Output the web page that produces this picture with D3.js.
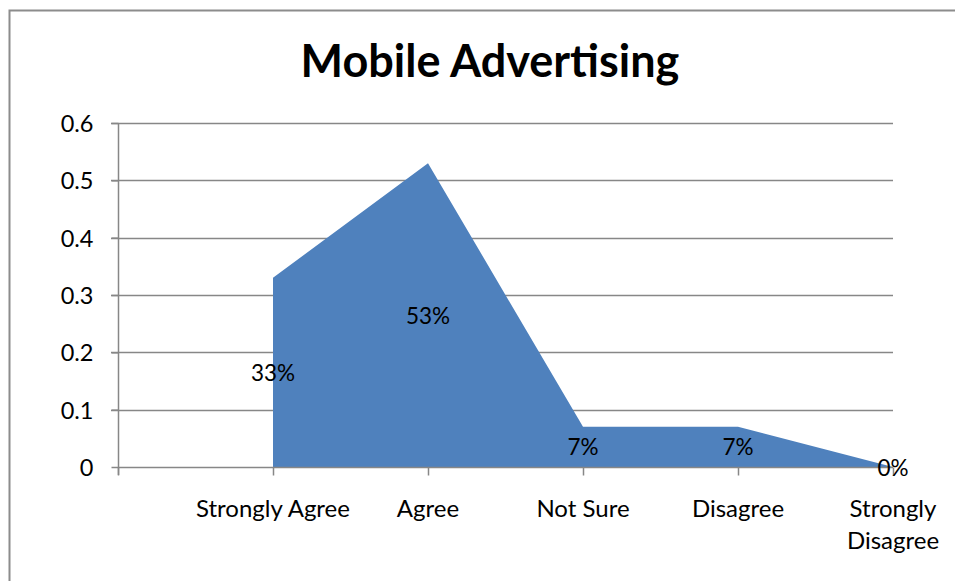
<!DOCTYPE html>
<html>
<head>
<meta charset="utf-8">
<script src="https://cdn.jsdelivr.net/npm/d3@7"></script>
<style>
  html, body { margin: 0; padding: 0; background: #fff; }
  svg { display: block; }
  text { font-family: Lato, "Open Sans", sans-serif; fill: #000; }
</style>
</head>
<body>
<svg id="chart" width="955" height="581"></svg>
<script>
// Survey responses: share of respondents per answer
const categories = ["", "Strongly Agree", "Agree", "Not Sure", "Disagree", "Strongly Disagree"];
const values = [null, 0.33, 0.53, 0.07, 0.07, 0.00];
const labels = ["", "33%", "53%", "7%", "7%", "0%"];
const yTicks = [0, 0.1, 0.2, 0.3, 0.4, 0.5, 0.6];
const title = "Mobile Advertising";

const svg = d3.select("#chart");
const W = 955, H = 581;
const m = { left: 118, right: 62, top: 123, bottom: 114 };
const gridColor = "#878787";

// outer frame
svg.append("rect")
  .attr("x", 9.5).attr("y", 10.5)
  .attr("width", W).attr("height", H)
  .attr("fill", "none").attr("stroke", "#8c8c8c").attr("stroke-width", 2);

const x = d3.scalePoint()
  .domain(d3.range(categories.length))
  .range([m.left, W - m.right]);
const y = d3.scaleLinear().domain([0, 0.6]).range([H - m.bottom, m.top]);

// horizontal gridlines
svg.append("g")
  .selectAll("line")
  .data(yTicks.filter(d => d > 0))
  .join("line")
  .attr("x1", m.left - 7).attr("x2", W - m.right)
  .attr("y1", d => Math.round(y(d)) + 0.5).attr("y2", d => Math.round(y(d)) + 0.5)
  .attr("stroke", gridColor).attr("stroke-width", 1.5);

// area series (blank first category left out)
const pts = values.map((v, i) => ({ i, v })).filter(d => d.v !== null);
const area = d3.area()
  .x(d => x(d.i))
  .y0(y(0))
  .y1(d => y(d.v));
svg.append("path")
  .datum(pts)
  .attr("d", area)
  .attr("fill", "#4f81bd");

// y axis
const yAxis = d3.axisLeft(y).tickValues(yTicks).tickFormat(d => d === 0 ? "0" : d3.format(".1f")(d)).tickSize(7);
const gy = svg.append("g").attr("transform", `translate(${m.left + 0.5},0)`).call(yAxis);
gy.select(".domain").remove();
gy.append("line").attr("y1", y(0.6)).attr("y2", y(0) + 8).attr("stroke", gridColor).attr("stroke-width", 1.5);
gy.selectAll(".tick line").attr("stroke", gridColor).attr("stroke-width", 1.5);
gy.selectAll(".tick text")
  .attr("x", -25).attr("dy", "0.36em")
  .style("font-size", "23.5px").style("font-family", "Lato, sans-serif").attr("fill", "#000");

// x axis
const xAxis = d3.axisBottom(x).tickFormat("").tickSize(8).tickSizeOuter(0);
const gx = svg.append("g").attr("transform", `translate(0,${Math.round(y(0)) + 0.5})`).call(xAxis);
gx.select(".domain").attr("stroke", gridColor).attr("stroke-width", 1.5).attr("d", `M${m.left},0H${W - m.right}`);
gx.selectAll(".tick line").attr("stroke", gridColor).attr("stroke-width", 1.5);

// category labels (wrapped when long)
const catG = svg.append("g");
categories.forEach((c, i) => {
  if (!c) return;
  const lines = c === "Strongly Disagree" ? ["Strongly", "Disagree"] : [c];
  const t = catG.append("text")
    .attr("x", x(i)).attr("y", y(0) + 50)
    .attr("text-anchor", "middle")
    .style("font-size", "24px");
  lines.forEach((ln, k) => {
    t.append("tspan").attr("x", x(i)).attr("dy", k === 0 ? 0 : 32).text(ln);
  });
});

// data labels at half height of each point
svg.append("g")
  .selectAll("text")
  .data(pts)
  .join("text")
  .attr("x", d => x(d.i))
  .attr("y", d => y(d.v / 2))
  .attr("dy", "0.38em")
  .attr("text-anchor", "middle")
  .style("font-size", "22.5px")
  .text(d => labels[d.i]);

// title
svg.append("text")
  .attr("x", 490).attr("y", 77)
  .attr("text-anchor", "middle")
  .style("font-size", "45px").style("font-weight", "bold")
  .text(title);
</script>
</body>
</html>
